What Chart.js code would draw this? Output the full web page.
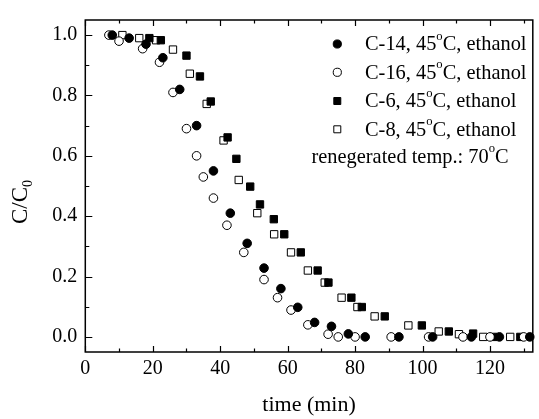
<!DOCTYPE html>
<html>
<head>
<meta charset="utf-8">
<script src="https://cdn.jsdelivr.net/npm/chart.js@4.4.1/dist/chart.umd.min.js"></script>
<style>
  html, body { margin: 0; padding: 0; background: #fff; }
  #wrap { width: 539px; height: 419px; }
</style>
</head>
<body>
<div id="wrap"><canvas id="chart"></canvas></div>
<script>
"use strict";

// values (time in min, C/C0)
const c14Time = [8, 13, 18, 23, 28, 33, 38, 43, 48, 53, 58, 63, 68, 73, 78, 83, 93, 103, 114.5, 122.8, 131.8];
const c14Ratio = [1.0, 0.99, 0.97, 0.925, 0.82, 0.70, 0.55, 0.41, 0.31, 0.228, 0.16, 0.098, 0.048, 0.035, 0.01, 0.0, 0.0, 0.0, 0.0, 0.0, 0.0];

const c16Time = [7, 10, 17, 22, 26, 30, 33, 35, 38, 42, 47, 53, 57, 61, 66, 72, 75, 80, 90.7, 101.8, 112, 120, 130];
const c16Ratio = [1.0, 0.98, 0.955, 0.91, 0.81, 0.69, 0.60, 0.53, 0.46, 0.37, 0.28, 0.19, 0.13, 0.089, 0.04, 0.009, 0.0, 0.0, 0.0, 0.0, 0.0, 0.0, 0.0];

const c6Time = [19, 22.4, 30, 34, 37.2, 42.2, 44.8, 48.9, 51.8, 55.9, 59, 63.9, 68.9, 72.1, 78.9, 82, 88.8, 99.8, 107.8, 115, 121, 129];
const c6Ratio = [0.99, 0.983, 0.932, 0.863, 0.78, 0.661, 0.59, 0.498, 0.439, 0.39, 0.34, 0.28, 0.22, 0.18, 0.13, 0.099, 0.068, 0.038, 0.018, 0.011, 0.0, 0.0];

const c8Time = [11, 16, 21, 26, 31, 36, 41, 45.5, 51, 56, 61, 66, 71, 76, 80.7, 85.8, 95.8, 104.8, 110.8, 118, 126];
const c8Ratio = [1.0, 0.99, 0.983, 0.952, 0.872, 0.772, 0.651, 0.52, 0.41, 0.34, 0.28, 0.22, 0.18, 0.13, 0.099, 0.068, 0.038, 0.018, 0.009, 0.0, 0.0];

const seriesNames = ['C-14', 'C-16', 'C-6', 'C-8'];
const sampleTemp = '45';
const solvent = 'ethanol';
const regenTemp = '70';

const xTicks = [0, 20, 40, 60, 80, 100, 120];
const xMinor = [10, 30, 50, 70, 90, 110, 130];
const yTicks = [0.0, 0.2, 0.4, 0.6, 0.8, 1.0];
const yMinor = [0.1, 0.3, 0.5, 0.7, 0.9];

const FONT = '"Liberation Serif", "Times New Roman", serif';

function pts(xs, ys) {
    return xs.map((v, i) => ({ x: v, y: ys[i] }));
}

const styles = [
    { pointStyle: 'circle', pointRadius: 4.3, pointBackgroundColor: '#000' },
    { pointStyle: 'circle', pointRadius: 4.3, pointBackgroundColor: '#fff' },
    { pointStyle: 'rect', pointRadius: 5.2, pointBackgroundColor: '#000' },
    { pointStyle: 'rect', pointRadius: 5.2, pointBackgroundColor: '#fff' }
];
const seriesData = [pts(c14Time, c14Ratio), pts(c16Time, c16Ratio), pts(c6Time, c6Ratio), pts(c8Time, c8Ratio)];

// text with a superscript "o" for degrees
function drawRich(ctx, x, y, parts, size) {
    let cx = x;
    parts.forEach(p => {
        const s = p.sup ? size * 0.62 : size;
        ctx.font = s + 'px ' + FONT;
        ctx.fillText(p.t, cx, p.sup ? y - size * 0.42 : y);
        cx += ctx.measureText(p.t).width;
    });
}

const framePlugin = {
    id: 'frame',
    afterDraw(chart) {
        const { ctx, chartArea: a, scales: { x, y } } = chart;
        ctx.save();
        ctx.strokeStyle = '#000';
        ctx.lineWidth = 1.5;
        ctx.strokeRect(a.left, a.top, a.right - a.left, a.bottom - a.top);

        ctx.lineWidth = 1.2;
        ctx.beginPath();
        const xt = (v, len) => {
            const px = Math.round(x.getPixelForValue(v)) + 0.5;
            ctx.moveTo(px, a.bottom); ctx.lineTo(px, a.bottom - len);
            ctx.moveTo(px, a.top); ctx.lineTo(px, a.top + len);
        };
        const yt = (v, len) => {
            const py = Math.round(y.getPixelForValue(v)) + 0.5;
            ctx.moveTo(a.left, py); ctx.lineTo(a.left + len, py);
        };
        xTicks.forEach(v => xt(v, 6));
        xMinor.forEach(v => xt(v, 3.5));
        yTicks.forEach(v => yt(v, 7));
        yMinor.forEach(v => yt(v, 4));
        ctx.stroke();

        // axis titles
        ctx.fillStyle = '#000';
        ctx.textBaseline = 'middle';
        ctx.textAlign = 'center';
        ctx.font = '22px ' + FONT;
        ctx.fillText('time (min)', (a.left + a.right) / 2, 405);

        ctx.save();
        ctx.translate(21, 202);
        ctx.rotate(-Math.PI / 2);
        ctx.textAlign = 'left';
        ctx.font = '23px ' + FONT;
        const w1 = ctx.measureText('C/C').width;
        ctx.font = '14px ' + FONT;
        const w2 = ctx.measureText('0').width;
        ctx.font = '23px ' + FONT;
        ctx.fillText('C/C', -(w1 + w2) / 2, 0);
        ctx.font = '14px ' + FONT;
        ctx.fillText('0', -(w1 + w2) / 2 + w1, 7);
        ctx.restore();

        // legend
        ctx.textAlign = 'left';
        const rows = [44, 72.3, 101, 129.3];
        seriesNames.forEach((name, i) => {
            const st = styles[i];
            ctx.fillStyle = st.pointBackgroundColor;
            ctx.strokeStyle = '#000';
            ctx.lineWidth = 1;
            Chart.helpers.drawPoint(ctx, {
                pointStyle: st.pointStyle,
                radius: st.pointRadius * 0.95,
                borderWidth: 1,
                rotation: 0
            }, 337.3, rows[i]);
            ctx.fillStyle = '#000';
            drawRich(ctx, 365, rows[i] + 1, [
                { t: name + ', ' + sampleTemp },
                { t: 'o', sup: true },
                { t: 'C, ' + solvent }
            ], 20.4);
        });
        drawRich(ctx, 311.5, 157.5, [
            { t: 'renegerated temp.: ' + regenTemp },
            { t: 'o', sup: true },
            { t: 'C' }
        ], 20.4);
        ctx.restore();
    }
};

new Chart(document.getElementById('chart'), {
    type: 'scatter',
    data: {
        datasets: seriesNames.map((name, i) => Object.assign({
            label: name,
            data: seriesData[i],
            pointBorderColor: '#000',
            pointBorderWidth: 1,
            showLine: false,
            clip: false
        }, styles[i]))
    },
    options: {
        responsive: true,
        maintainAspectRatio: false,
        animation: false,
        events: [],
        layout: { padding: { top: 14, right: 1, left: 0, bottom: 0 } },
        plugins: {
            legend: { display: false },
            tooltip: { enabled: false }
        },
        scales: {
            x: {
                type: 'linear',
                min: 0,
                max: 132.7,
                grid: { display: false, drawTicks: false },
                border: { display: false },
                afterBuildTicks: s => { s.ticks = xTicks.map(v => ({ value: v })); },
                afterFit: s => { s.height = 67; },
                ticks: {
                    color: '#000',
                    padding: 5,
                    maxRotation: 0,
                    font: { family: FONT, size: 20 },
                    callback: v => String(v)
                }
            },
            y: {
                type: 'linear',
                min: -0.05,
                max: 1.05,
                grid: { display: false, drawTicks: false },
                border: { display: false },
                afterBuildTicks: s => { s.ticks = yTicks.map(v => ({ value: v })); },
                afterFit: s => { s.width = 85.3; },
                ticks: {
                    color: '#000',
                    padding: 8,
                    font: { family: FONT, size: 20 },
                    callback: v => Number(v).toFixed(1)
                }
            }
        }
    },
    plugins: [framePlugin]
});
</script>
</body>
</html>
